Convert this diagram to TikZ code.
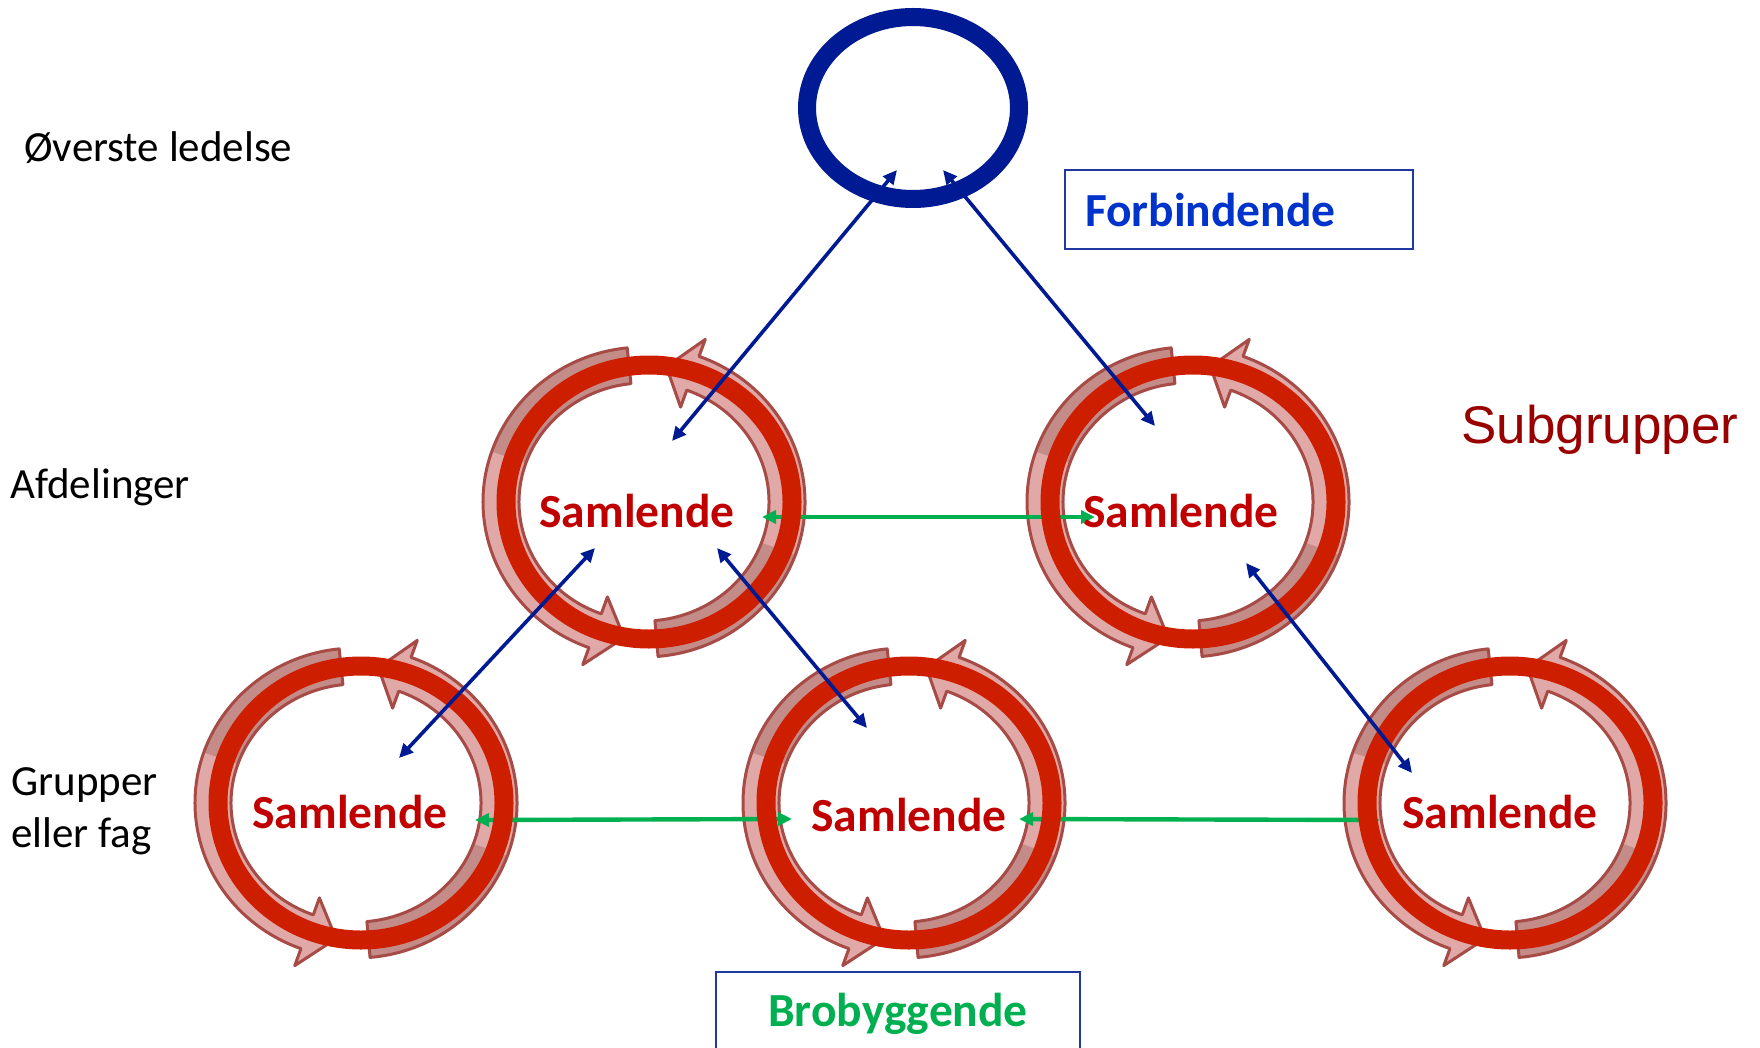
\documentclass[tikz,border=0pt]{standalone}
\usepackage{fontspec}
\setmainfont{Carlito}
\newfontfamily\arialfont{Liberation Sans}
\usetikzlibrary{arrows.meta, shapes.geometric, calc, backgrounds}

\definecolor{ringred}{RGB}{206,30,0}
\definecolor{samred}{RGB}{192,0,0}
\definecolor{topblue}{RGB}{0,26,148}
\definecolor{linkgreen}{RGB}{0,176,80}
\definecolor{fbblue}{RGB}{0,51,204}
\definecolor{boxblue}{RGB}{32,56,160}
\definecolor{subred}{RGB}{153,0,0}
\definecolor{ringlight}{RGB}{224,168,166}
\definecolor{ringdark}{RGB}{195,140,136}
\definecolor{ringline}{RGB}{166,75,70}

% one curved arrow of the cycle: from, head base, tip (angles)
\newcommand{\ringpath}[3]{(#1:161 and 155) arc[start angle=#1, end angle=#2, x radius=161, y radius=155]
  -- (#2:179 and 173) -- (#3:143 and 137) -- (#2:107 and 101) -- (#2:125 and 119)
  arc[start angle=#2, end angle=#1, x radius=125, y radius=119] -- cycle}
\newcommand{\ringtail}[2]{(#1:161 and 155) arc[start angle=#1, end angle=#2, x radius=161, y radius=155]
  -- (#2:125 and 119) arc[start angle=#2, end angle=#1, x radius=125, y radius=119] -- cycle}

\begin{document}
\begin{tikzpicture}[x=0.5pt, y=0.5pt,
    ring/.style={ellipse, draw=ringred, line width=9.5pt, minimum width=143pt, minimum height=137pt, inner sep=0pt},
    leader/.style={ellipse, draw=topblue, line width=9pt, minimum width=106pt, minimum height=91pt, inner sep=0pt},
    samtext/.style={anchor=base, text=samred, inner sep=0pt, font=\fontsize{23.75}{28}\selectfont\bfseries},
    level/.style={anchor=base west, align=left, inner sep=0pt, font=\fontsize{21.5}{26}\selectfont},
    rolebox/.style={draw=boxblue, line width=1pt, inner ysep=0pt, font=\fontsize{23.75}{28}\selectfont\bfseries},
    vlink/.style={<->, draw=topblue, line width=1.8pt},
    hlink/.style={<->, draw=linkgreen, line width=2.2pt},
    >={Triangle[length=7pt, width=6.5pt]}]
    \useasboundingbox (0,0) rectangle (1760,-1048);
    \clip (0,0) rectangle (1760,-1048);

    % Level labels:
    \node[level] (lvtop) at (24,-162) {Øverste ledelse};
    \node[level] (lvdept) at (10,-498) {Afdelinger};
    \node[level] (lvgroup) at (11,-847) {Grupper\\eller fag};

    % Top and the rings:
    \node[leader] (top) at (913,-108) {};
    \node[ring] (c1) at (649,-502) {};
    \node[ring] (c2) at (1193,-502) {};
    \node[ring] (c3) at (361,-803) {};
    \node[ring] (c4) at (909,-803) {};
    \node[ring] (c5) at (1510,-803) {};

    % Cycle arrows and bridges, behind the rings:
    \begin{scope}[on background layer]
        \foreach \c in {c1,c2,c3,c4,c5} {
            \begin{scope}[shift={(\c)}, xshift=-2.5pt]
                \foreach \a/\b/\t in {96/250/262, 275/430/441} {
                    \fill[ringlight] \ringpath{\a}{\b}{\t};
                    \fill[ringdark] \ringtail{\a}{\a+65};
                    \draw[ringline, line width=1.5pt, line join=round] \ringpath{\a}{\b}{\t};
                }
            \end{scope}
        }
        \draw[hlink] ($(c1)+(113,-15)$) -- ($(c2)+(-98,-15)$);
        \draw[hlink] ($(c3)+(114,-17)$) -- ($(c4)+(-117,-16)$);
        \draw[hlink] ($(c4)+(110,-16)$) -- ($(c5)+(-130,-17)$);
    \end{scope}

    % Links down the hierarchy:
    \draw[vlink] ($(top)+(-16,-62)$) -- ($(c1)+(23,61)$);
    \draw[vlink] ($(top)+(30,-62)$) -- ($(c2)+(-38,76)$);
    \draw[vlink] ($(c1)+(-54,-46)$) -- ($(c3)+(38,45)$);
    \draw[vlink] ($(c1)+(68,-46)$) -- ($(c4)+(-42,75)$);
    \draw[vlink] ($(c2)+(53,-61)$) -- ($(c5)+(-98,30)$);

    % Ring texts:
    \node[samtext] (s1) at ($(c1)+(-12,-25)$) {Samlende};
    \node[samtext] (s2) at ($(c2)+(-12,-25)$) {Samlende};
    \node[samtext] (s3) at ($(c3)+(-11,-25)$) {Samlende};
    \node[samtext] (s4) at ($(c4)+(0,-28)$) {Samlende};
    \node[samtext] (s5) at ($(c5)+(-10,-25)$) {Samlende};

    % Role boxes:
    \node[rolebox, anchor=north west, minimum width=174pt, minimum height=39.5pt, text width=154pt,
        inner xsep=10pt, align=left, text=fbblue, text height=17pt, text depth=0pt] (fb) at (1064,-169) {Forbindende};
    \node[rolebox, anchor=north, minimum width=182pt, minimum height=42pt, text=linkgreen,
        text height=17pt, text depth=5pt] (bro) at (898,-971) {Brobyggende};
    \node[anchor=base west, inner sep=0pt, text=subred, font=\arialfont\fontsize{26.5}{30}\selectfont] (sub) at (1461,-443) {Subgrupper};
\end{tikzpicture}
\end{document}
